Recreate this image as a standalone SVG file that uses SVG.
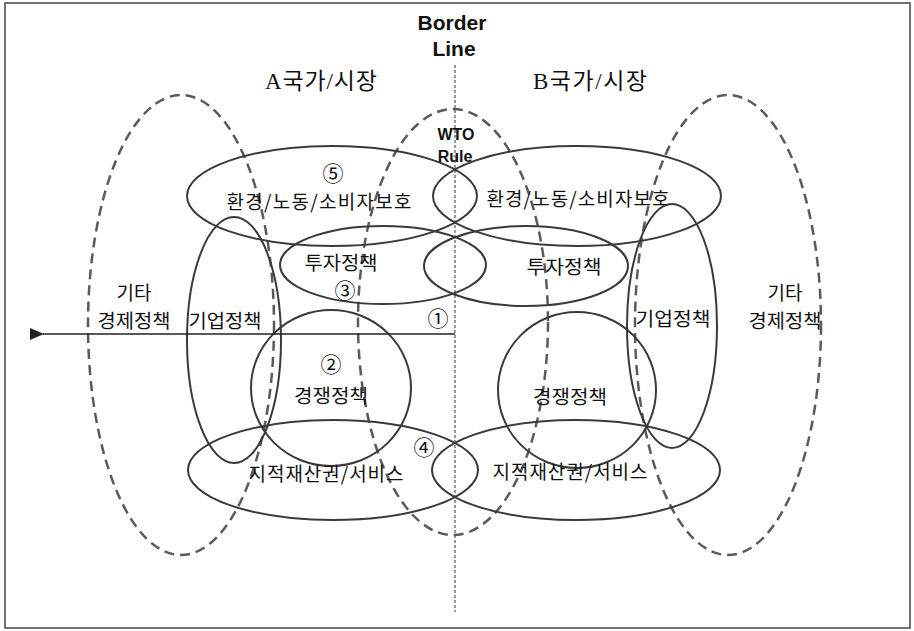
<svg xmlns="http://www.w3.org/2000/svg" width="914" height="631" viewBox="0 0 914 631">
<style>
.bg{fill:#fff}
.frame{fill:none;stroke:#444;stroke-width:1.5}
.solid{fill:none;stroke:#3a3a3a;stroke-width:2}
.dash{fill:none;stroke:#5a5a5a;stroke-width:2.5;stroke-dasharray:10 6}
.border{fill:none;stroke:#333;stroke-width:1;stroke-dasharray:3 2}
.arrow{fill:none;stroke:#222;stroke-width:1.5}
text{font-family:"Noto Sans CJK KR","Noto Sans",sans-serif;fill:#111;text-anchor:middle;dominant-baseline:central}
.lbl{font-size:19px}
.num{font-size:21px}
.bold{font-family:"Liberation Sans","Noto Sans CJK KR",sans-serif;font-weight:bold}
.serif{font-family:"Liberation Serif","Noto Sans CJK KR",serif;font-size:23px}
</style>
<defs>
<marker id="ah" viewBox="0 0 14 12" refX="1" refY="6" markerWidth="14" markerHeight="12" markerUnits="userSpaceOnUse" orient="auto">
<path d="M14,0 L0,6 L14,12 Z" fill="#222"/>
</marker>
</defs>
<rect class="bg" x="0" y="0" width="914" height="631"/>
<rect class="frame" x="5" y="3" width="905" height="625"/>

<g id="border-line">
<line class="border" x1="455" y1="65" x2="455" y2="612"/>
<text class="bold" x="452" y="22" font-size="21">Border</text>
<text class="bold" x="454" y="48" font-size="21">Line</text>
</g>

<g id="country-a"><text class="serif" x="321" y="81" textLength="112" lengthAdjust="spacing">A국가/시장</text></g>
<g id="country-b"><text class="serif" x="590" y="81" textLength="114" lengthAdjust="spacing">B국가/시장</text></g>

<g id="other-left">
<ellipse class="dash" cx="181" cy="325" rx="93" ry="230"/>
<text class="lbl" x="134" y="291">기타</text>
<text class="lbl" x="134" y="319" textLength="73" lengthAdjust="spacingAndGlyphs">경제정책</text>
</g>
<g id="other-right">
<ellipse class="dash" cx="728" cy="325" rx="93" ry="230"/>
<text class="lbl" x="785" y="291">기타</text>
<text class="lbl" x="785" y="319" textLength="73" lengthAdjust="spacingAndGlyphs">경제정책</text>
</g>
<g id="wto">
<ellipse class="dash" cx="453" cy="322" rx="95" ry="213"/>
<text class="bold" x="456" y="134" font-size="16">WTO</text>
<text class="bold" x="455" y="156" font-size="16">Rule</text>
</g>

<g id="env-left">
<ellipse class="solid" cx="332" cy="196" rx="145" ry="50"/>
<text class="num" x="333" y="172">⑤</text>
<text class="lbl" x="319" y="200" textLength="185" lengthAdjust="spacing">환경/노동/소비자보호</text>
</g>
<g id="env-right">
<ellipse class="solid" cx="577" cy="196" rx="144" ry="50"/>
<text class="lbl" x="578" y="197" textLength="183" lengthAdjust="spacing">환경/노동/소비자보호</text>
</g>

<g id="invest-left">
<ellipse class="solid" cx="383" cy="265" rx="103" ry="39"/>
<text class="lbl" x="341" y="261" textLength="73" lengthAdjust="spacingAndGlyphs">투자정책</text>
<text class="num" x="345" y="289">③</text>
</g>
<g id="invest-right">
<ellipse class="solid" cx="526" cy="266" rx="102" ry="40"/>
<text class="lbl" x="564" y="265" textLength="75" lengthAdjust="spacingAndGlyphs">투자정책</text>
</g>

<g id="corp-left">
<ellipse class="solid" cx="234" cy="340" rx="47" ry="123"/>
<text class="lbl" x="225" y="319" textLength="73" lengthAdjust="spacingAndGlyphs">기업정책</text>
</g>
<g id="corp-right">
<ellipse class="solid" cx="672" cy="326" rx="45" ry="122"/>
<text class="lbl" x="673" y="317" textLength="75" lengthAdjust="spacingAndGlyphs">기업정책</text>
</g>

<g id="comp-left">
<ellipse class="solid" cx="331" cy="388" rx="80" ry="78"/>
<text class="num" x="331" y="363">②</text>
<text class="lbl" x="331" y="394" textLength="74" lengthAdjust="spacingAndGlyphs">경쟁정책</text>
</g>
<g id="comp-right">
<ellipse class="solid" cx="577" cy="390" rx="79" ry="78"/>
<text class="lbl" x="570" y="395" textLength="74" lengthAdjust="spacingAndGlyphs">경쟁정책</text>
</g>

<g id="ip-left">
<ellipse class="solid" cx="333" cy="470" rx="145" ry="50"/>
<text class="num" x="424" y="446">④</text>
<text class="lbl" x="326" y="472" textLength="155" lengthAdjust="spacing">지적재산권/서비스</text>
</g>
<g id="ip-right">
<ellipse class="solid" cx="576" cy="470" rx="144" ry="50"/>
<text class="lbl" x="570" y="470" textLength="155" lengthAdjust="spacing">지적재산권/서비스</text>
</g>

<g id="connectors">
<line class="arrow" x1="455" y1="334" x2="43" y2="334" marker-end="url(#ah)"/>
<text class="num" x="438" y="317">①</text>
</g>
</svg>
